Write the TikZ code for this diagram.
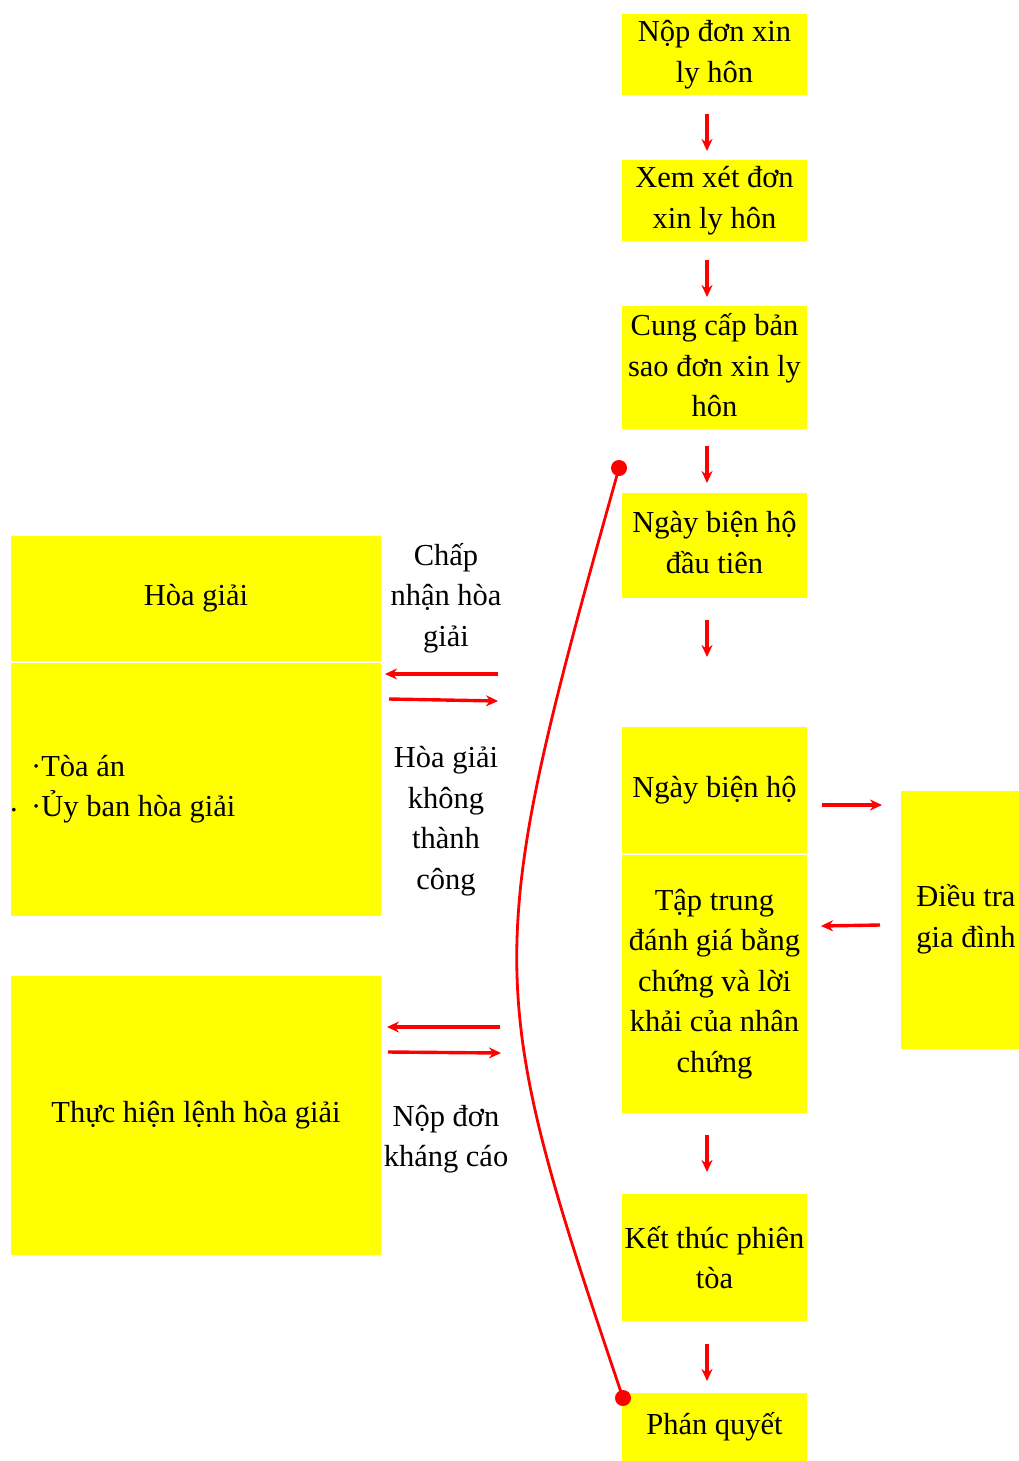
\documentclass[tikz,border=0pt]{standalone}
\usepackage{fontspec}
\setmainfont{Liberation Serif}
\usetikzlibrary{arrows.meta}
\definecolor{ylw}{RGB}{255,255,0}
\definecolor{rd}{RGB}{255,0,0}
\newcommand{\fsz}{\fontsize{30.5}{40.5}\selectfont}
\tikzset{
  ybox/.style={fill=ylw, inner sep=0pt, align=center, font=\fsz},
  lbl/.style={inner sep=0pt, align=center, font=\fsz},
  rarrow/.style={draw=rd, line width=3.4pt, -{Stealth[length=12pt,width=11pt]}},
  dotend/.style={circle, fill=rd, inner sep=0pt, minimum size=16pt}
}
\begin{document}
\begin{tikzpicture}[x=1pt,y=-1pt]
\useasboundingbox (0,0) rectangle (1019,1461);
% right column
\node[ybox, minimum width=185pt, minimum height=81pt] (b1) at (714.5,54.5) {Nộp đơn xin\\ly hôn};
\node[ybox, minimum width=185pt, minimum height=81pt] (b2) at (714.5,200.5) {Xem xét đơn\\xin ly hôn};
\node[ybox, minimum width=185pt, minimum height=123pt] (b3) at (714.5,367.5) {};
\node[lbl] (t3) at (714.5,365.5) {Cung cấp bản\\sao đơn xin ly\\hôn};
\node[ybox, minimum width=185pt, minimum height=105pt] (b4) at (714.5,545.5) {};
\node[lbl] (t4) at (714.5,542.5) {Ngày biện hộ\\đầu tiên};
\node[ybox, minimum width=185pt, minimum height=126pt] (b5) at (714.5,790) {Ngày biện hộ};
\node[ybox, minimum width=185pt, minimum height=258pt] (b6) at (714.5,984) {Tập trung\\đánh giá bằng\\chứng và lời\\khải của nhân\\chứng};
\node[ybox, minimum width=185pt, minimum height=127pt] (b7) at (714.5,1257.5) {Kết thúc phiên\\tòa};
\node[ybox, minimum width=185pt, minimum height=68pt] (b8) at (714.5,1427) {Phán quyết};
\node[ybox, minimum width=118pt, minimum height=258pt] (b9) at (960,920) {};
\node[lbl] (t9) at (966,919) {Điều tra\\gia đình};
% left column
\node[ybox, minimum width=370pt, minimum height=125pt] (l1) at (196,598.5) {Hòa giải};
\node[ybox, minimum width=370pt, minimum height=253pt] (l2) at (196,789.5) {};
\node[lbl, align=left, anchor=west] (l2t) at (31,789) {·Tòa án\\·Ủy ban hòa giải};
\node[lbl] (l2d) at (14,810) {.};
\node[ybox, minimum width=370pt, minimum height=279pt] (l3) at (196,1115.5) {Thực hiện lệnh hòa giải};
% labels
\node[lbl] (c1) at (446,598) {Chấp\\nhận hòa\\giải};
\node[lbl] (c2) at (446,821) {Hòa giải\\không\\thành\\công};
\node[lbl] (c3) at (446,1139) {Nộp đơn\\kháng cáo};
% vertical arrows
\coordinate (a1s) at (707,114); \coordinate (a1e) at (707,151);
\coordinate (a2s) at (707,260); \coordinate (a2e) at (707,297);
\coordinate (a3s) at (707,446); \coordinate (a3e) at (707,483);
\coordinate (a4s) at (707,620); \coordinate (a4e) at (707,657);
\coordinate (a5s) at (707,1135); \coordinate (a5e) at (707,1172);
\coordinate (a6s) at (707,1344); \coordinate (a6e) at (707,1381);
\foreach \i in {1,...,6} \draw[rarrow] (a\i s) -- (a\i e);
% horizontal arrows
\coordinate (h1s) at (498,674); \coordinate (h1e) at (385,674);
\coordinate (h2s) at (389,699); \coordinate (h2e) at (498,701);
\coordinate (h3s) at (500,1027); \coordinate (h3e) at (387,1027);
\coordinate (h4s) at (388,1052); \coordinate (h4e) at (501,1053);
\coordinate (h5s) at (822,805); \coordinate (h5e) at (882,805);
\coordinate (h6s) at (880,925); \coordinate (h6e) at (821,926);
\foreach \i in {1,...,6} \draw[rarrow] (h\i s) -- (h\i e);
% curve
\node[dotend] (d1) at (619,468) {};
\node[dotend] (d2) at (623,1398) {};
\draw[rd, line width=2.8pt] (d1.center) .. controls (482,957) and (482,981) .. (d2.center);
\end{tikzpicture}
\end{document}
